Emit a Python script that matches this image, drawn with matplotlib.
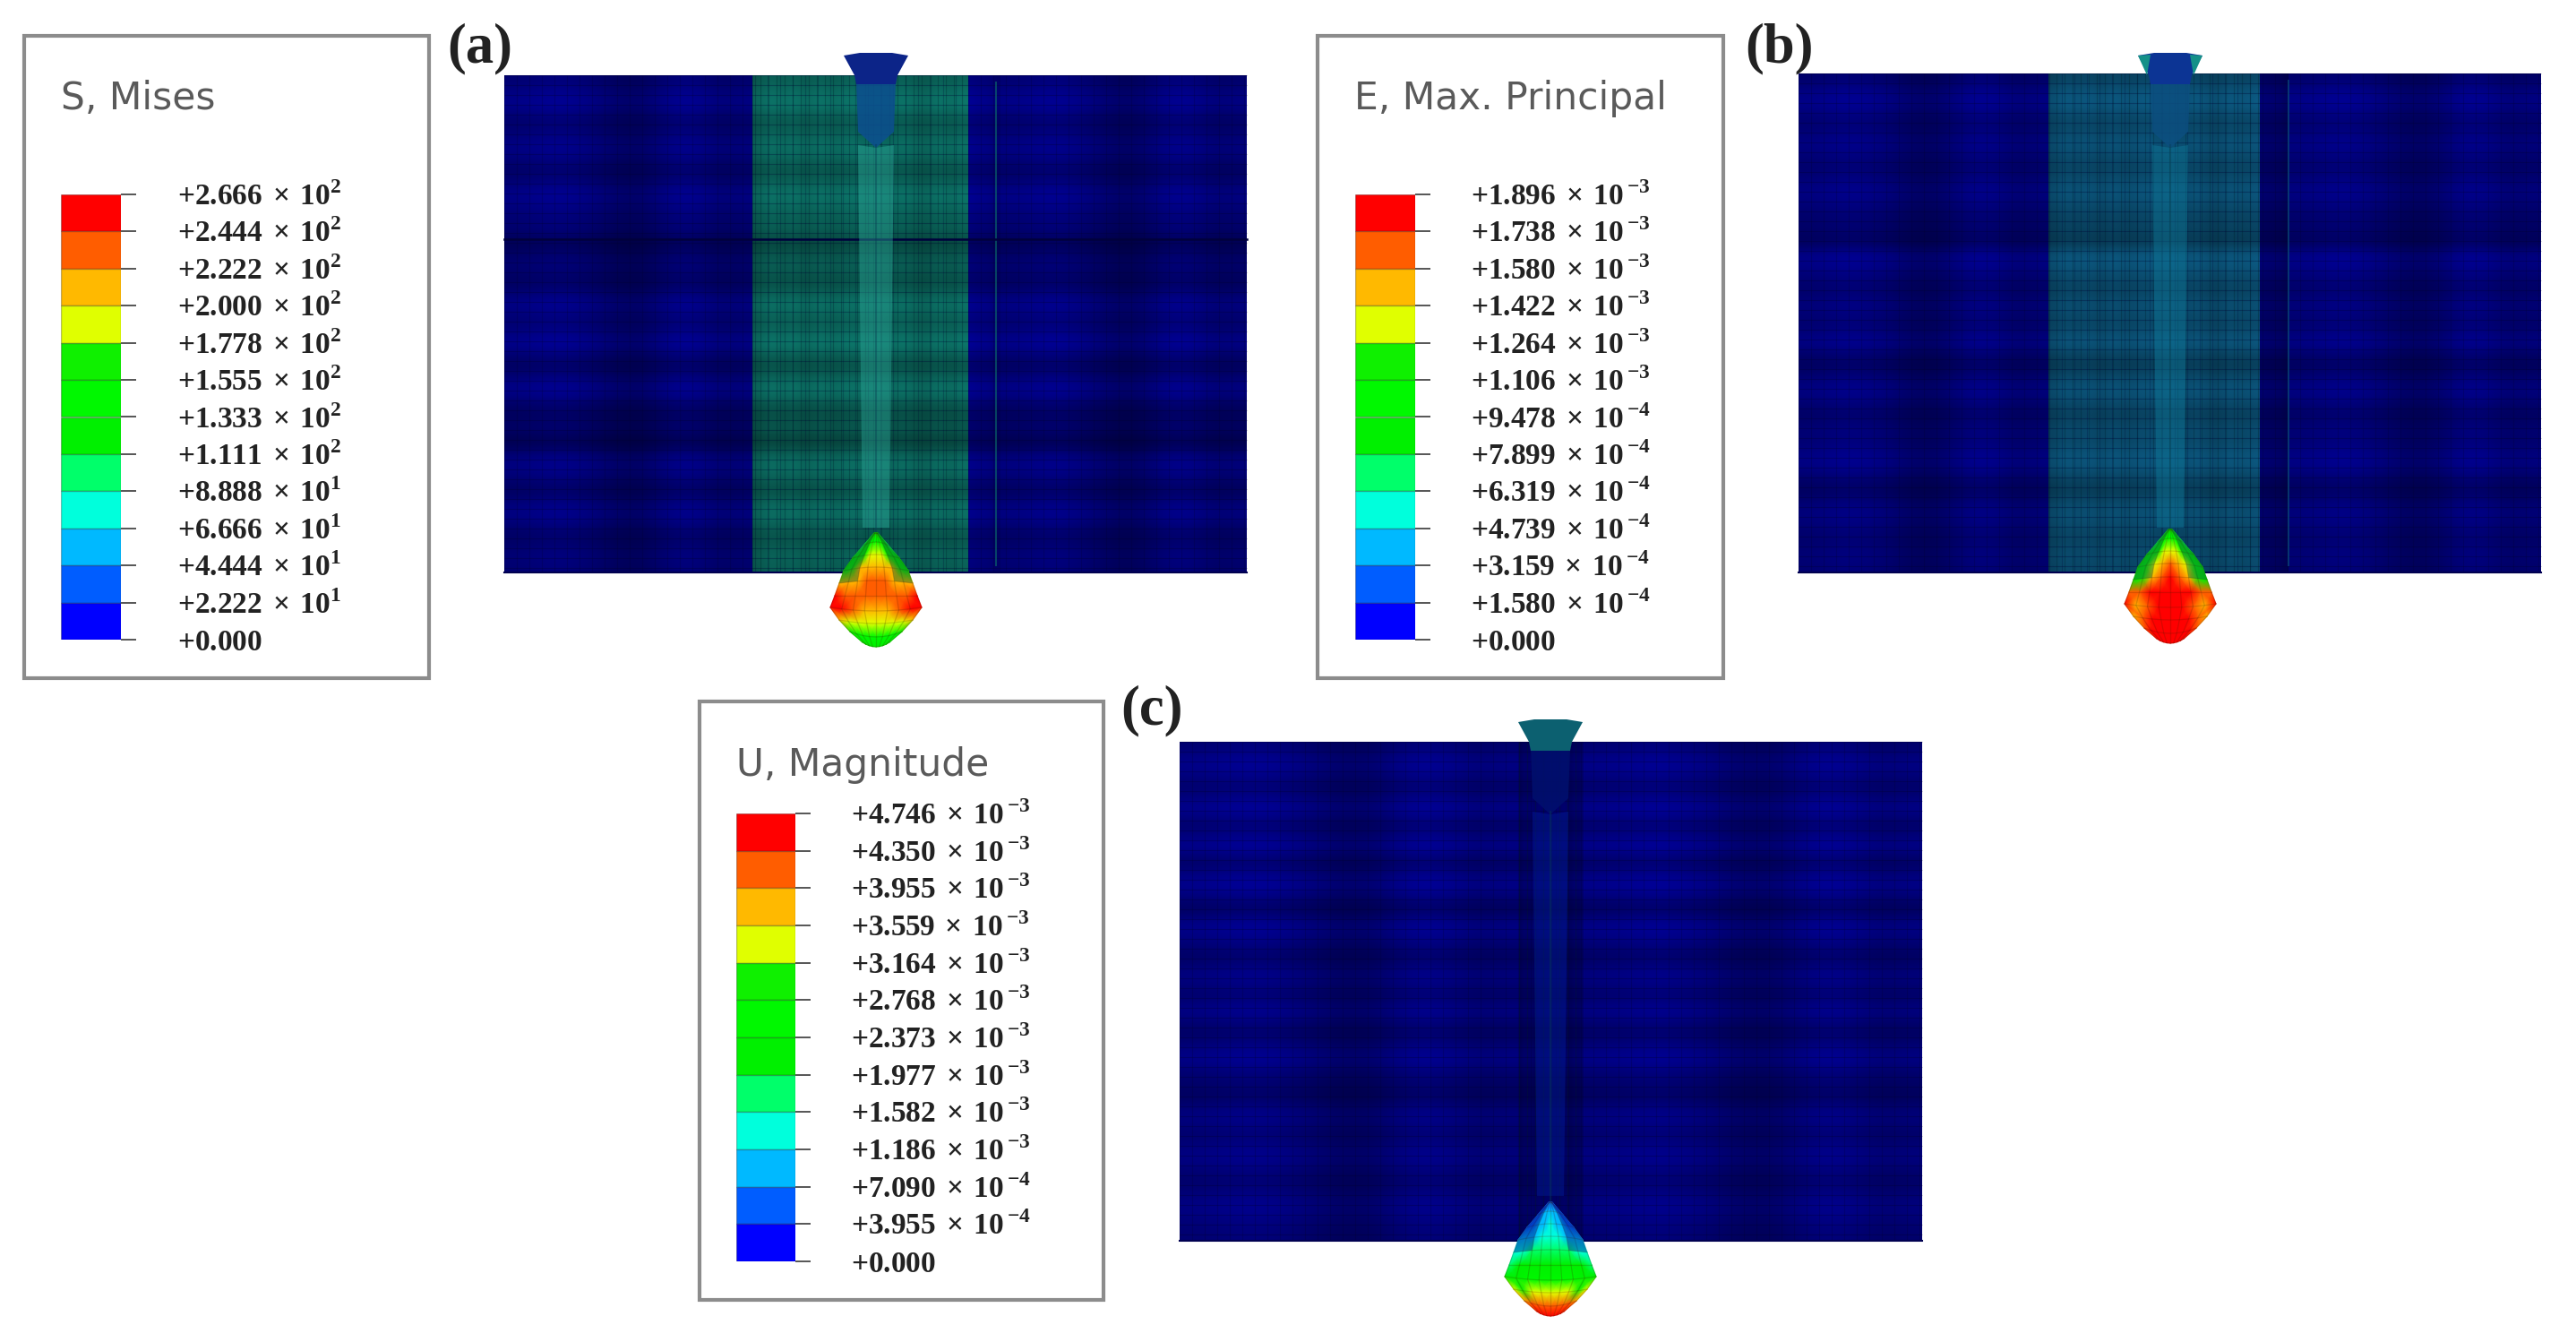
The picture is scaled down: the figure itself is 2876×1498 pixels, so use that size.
import numpy as np
import matplotlib
matplotlib.use("Agg")
import matplotlib.pyplot as plt
from matplotlib.colors import ListedColormap, to_rgb
from matplotlib.patches import Polygon, Rectangle
from matplotlib.transforms import ScaledTranslation

plt.rcParams['mathtext.fontset'] = 'custom'
plt.rcParams['mathtext.rm'] = 'Liberation Serif:bold'
plt.rcParams['mathtext.bf'] = 'Liberation Serif:bold'

W, H = 2876, 1498

# legend data, top of the bar first
band_colors = ['#ff0000', '#ff5d00', '#ffb900', '#e0ff00', '#0ff000', '#00f800',
               '#00f000', '#00ff6a', '#00ffdc', '#00b9ff', '#005dff', '#0000ff']

s_mises = ['2.666', '2.444', '2.222', '2.000', '1.778', '1.555', '1.333', '1.111',
           '8.888', '6.666', '4.444', '2.222', '0.000']
s_exp = [2, 2, 2, 2, 2, 2, 2, 2, 1, 1, 1, 1, None]

e_max = ['1.896', '1.738', '1.580', '1.422', '1.264', '1.106', '9.478', '7.899',
         '6.319', '4.739', '3.159', '1.580', '0.000']
e_exp = [-3, -3, -3, -3, -3, -3, -4, -4, -4, -4, -4, -4, None]

u_mag = ['4.746', '4.350', '3.955', '3.559', '3.164', '2.768', '2.373', '1.977',
         '1.582', '1.186', '7.090', '3.955', '0.000']
u_exp = [-3, -3, -3, -3, -3, -3, -3, -3, -3, -3, -4, -4, None]

rows_a = [.85, 1, 1.05, .8, .85, 1, .95, .75, .85, 1.05, .95, .85, .85, .6, .8, .85, .7, .85, 1.05, .85,
          .9, 1.1, .85, .7, .95, 1.05, .75, .7, .8, .55, .9, 1, .85, .7, .95, 1, .8, .75, .9, .85]
rows_b = [.8, 1, 1.05, .85, .85, 1, .9, .8, .9, 1, .9, .8, .8, .65, 1.05, 1, .85, .8, .95, .85,
          .85, 1.05, .8, .7, .9, 1, .85, .75, .9, .85, 1, 1, .8, .7, .9, .95, .85, .8, .9, .85]
rows_c = [.85, 1.05, 1, .8, .95, 1.1, .8, .95, 1.1, .75, .95, 1.1, .9, .7, 1.05, 1, .85, .75, 1, .9,
          .8, 1.05, .85, .75, .95, 1.05, .85, .8, .7, .95, .95, .8, .95, 1, .85, .8, .95, 1, .9, .85]

# brightness of the mesh columns inside each zone
cols_outer = [.95, 1, 1.05, 1, .9, .78, .75, .9, 1.05, 1, .85, .92]
cols_band = [.85, 1, .9, 1, .85, 1, .9, .95, 1, .9, 1, .88, 1, .9, .85, 1, .9, 1]
cols_strip = [1.05, 1, 1, .95, .85]

# contour levels of the deformed tip nodes, 0 is blue, 12 is red, apex row first
tip_a = [[5, 5, 5, 5, 5, 5, 5, 5, 5],
         [4, 5, 5, 6, 6, 6, 5, 5, 4],
         [5, 5, 7, 8, 8, 8, 7, 5, 5],
         [6, 7, 9, 9, 9, 9, 9, 7, 6],
         [9, 9, 9, 10, 10, 10, 9, 9, 9],
         [11, 10, 10, 10, 10, 10, 10, 10, 11],
         [12, 11, 10, 9, 9, 9, 10, 11, 12],
         [9, 8, 8, 8, 8, 8, 8, 8, 9],
         [7, 6, 6, 6, 6, 6, 6, 6, 7],
         [5, 5, 5, 5, 5, 5, 5, 5, 5]]
tip_b = [[5, 5, 5, 5, 5, 5, 5, 5, 5],
         [4, 5, 6, 6, 6, 6, 6, 5, 4],
         [5, 5, 7, 8, 8, 8, 7, 5, 5],
         [5, 6, 8, 9, 10, 9, 8, 6, 5],
         [5, 7, 9, 10, 11, 10, 9, 7, 5],
         [10, 10, 11, 12, 12, 12, 11, 10, 10],
         [11, 9, 10, 12, 12, 12, 10, 9, 11],
         [9, 10, 11, 12, 12, 12, 11, 10, 9],
         [10, 11, 12, 12, 12, 12, 12, 11, 10],
         [11, 12, 12, 12, 12, 12, 12, 12, 11]]
tip_c = [[1, 1, 1, 1, 1, 1, 1, 1, 1],
         [1, 1, 2, 2, 2, 2, 2, 1, 1],
         [1, 1, 2, 2, 3, 2, 2, 1, 1],
         [2, 2, 2, 3, 3, 3, 2, 2, 2],
         [3, 3, 4, 4, 4, 4, 4, 3, 3],
         [4, 5, 5, 5, 5, 5, 5, 5, 4],
         [5, 5, 6, 6, 6, 6, 6, 5, 5],
         [8, 7, 8, 8, 8, 8, 8, 7, 8],
         [9, 10, 10, 10, 10, 10, 10, 10, 9],
         [11, 11, 12, 12, 12, 12, 12, 11, 11]]

# shape of the tip, pixels from the apex
tip_half = [2, 14, 26, 36, 41, 46, 51, 41, 29, 15]
tip_edge = [0, 14, 28, 42, 56, 70, 83, 97, 110, 122]
tip_sag = [0, -4, -4, -4, -3, 0, 4, 4, 6, 5]
tip_u = [-1, -.75, -.5, -.25, 0, .25, .5, .75, 1]

fig = plt.figure(figsize=(W / 100, H / 100), dpi=100, facecolor='white')
bg = fig.add_axes([0, 0, 1, 1])
bg.set_xlim(0, W)
bg.set_ylim(H, 0)
bg.set_autoscale_on(False)
bg.axis('off')


def exp_label(num, exp):
    if exp is None:
        return r'$+\mathrm{%s}$' % num
    if exp < 0:
        return r'$+\mathrm{%s}\/\times\/\mathrm{10}^{\,\mathrm{%d}}$' % (num, exp)
    return r'$+\mathrm{%s}\/\times\/\mathrm{10}^{\mathrm{%d}}$' % (num, exp)


def draw_legend(box, title_y, bar, title, values, exps):
    x0, y0, x1, y1 = box
    bg.add_patch(Rectangle((x0, y0), x1 - x0, y1 - y0, fc='white', ec='#8c8c8c', lw=3))
    bg.text(x0 + 41, title_y, title, fontsize=30.5, color='#5a5a5a', va='center', ha='left',
            family='DejaVu Sans')
    bx0, by0, bx1, by1 = bar
    ax = fig.add_axes([bx0 / W, 1 - by1 / H, (bx1 - bx0) / W, (by1 - by0) / H])
    ax.barh(np.arange(12) + 0.5, 1, height=1, color=band_colors, edgecolor='#00000040', lw=1)
    ax.set_xlim(0, 1)
    ax.set_ylim(12, 0)
    ax.set_xticks([])
    ax.yaxis.tick_right()
    ax.set_yticks(np.arange(13))
    ax.set_yticklabels([exp_label(v, e) for v, e in zip(values, exps)], fontsize=24, color='#222222')
    ax.tick_params(axis='y', length=12, width=1.4, color='#555555', pad=33)
    # same baseline offset for every label, the exponents should not move them
    shift = ScaledTranslation(0, -12 / 100, fig.dpi_scale_trans)
    for tick in ax.yaxis.get_major_ticks():
        tick.label2.set_va('baseline')
        tick.label2.set_transform(tick.label2.get_transform() + shift)
    for s in ax.spines.values():
        s.set_visible(False)


def draw_zone(x0, x1, y0, y1, rows, cols, color):
    shade = np.outer(rows, cols)[..., None] * np.array(to_rgb(color))
    bg.imshow(np.clip(shade, 0, 1), extent=(x0, x1, y1, y0), aspect='auto',
              interpolation='bicubic', zorder=1)


def draw_mesh(box, edges, rows, outer, band, strip, line_x=None, lines=()):
    x0, y0, x1, y1 = box
    draw_zone(x0, edges[0], y0, y1, rows, cols_outer, outer)
    draw_zone(edges[0], edges[1], y0, y1, rows, cols_band, band)
    draw_zone(edges[1], edges[2], y0, y1, rows, cols_strip, strip)
    draw_zone(edges[2], x1, y0, y1, rows, cols_outer, outer)
    # fine element lines, tighter in the band
    bg.vlines(np.arange(x0, x1, 14), y0, y1, color='#000030', lw=.8, alpha=.22, zorder=2)
    bg.vlines(np.arange(edges[0], edges[1], 9), y0, y1, color='#002028', lw=.8, alpha=.3, zorder=2)
    bg.hlines(np.arange(y0, y1, 11), x0, x1, color='#000030', lw=.8, alpha=.3, zorder=2)
    if line_x is not None:
        bg.plot([line_x, line_x], [y0 + 8, y1 - 8], color=band, lw=1.4, alpha=.6, zorder=2)
    for ly in lines:
        bg.plot([x0, x1], [ly, ly], color='#00003c', lw=1.8, zorder=2)
    bg.plot([x0, x1], [y1, y1], color='#000050', lw=1.5, zorder=2)


def draw_stem(cx, top, ybot, cap_color, neck_color, column_color, corner_color=None):
    # neck narrows to a point below the top surface
    bg.add_patch(Polygon([(cx - 22, top + 30), (cx + 22, top + 30), (cx + 20, top + 85), (cx, top + 103),
                          (cx - 20, top + 85)], fc=neck_color, ec='none', alpha=.85, zorder=3))
    bg.add_patch(Polygon([(cx - 20, top + 100), (cx, top + 103), (cx + 20, top + 100), (cx + 15, ybot - 50),
                          (cx - 15, ybot - 50)], fc=column_color, ec='none', alpha=.4, zorder=3))
    bg.plot([cx, cx], [top + 100, ybot - 40], color='#063c50', lw=1.5, alpha=.4, zorder=3)
    bg.add_patch(Polygon([(cx - 36, top), (cx - 18, top - 3), (cx + 18, top - 3), (cx + 36, top), (cx + 24, top + 22),
                          (cx + 22, top + 32), (cx - 22, top + 32), (cx - 24, top + 22)],
                         fc=cap_color, ec='none', zorder=4))
    if corner_color:
        for sign in (-1, 1):
            bg.add_patch(Polygon([(cx + sign * 36, top), (cx + sign * 22, top - 1), (cx + sign * 26, top + 22)],
                                 fc=corner_color, ec='none', zorder=4))


def draw_tip(cx, apex, levels, shade_color):
    lev = np.array(levels, dtype=float)
    u = np.array(tip_u)
    half = np.array(tip_half)[:, None]
    X = cx + half * u
    Y = apex + np.array(tip_edge)[:, None] + np.array(tip_sag)[:, None] * (1 - u ** 2)
    # level 12 is the top edge of the red band, so shift into the band list
    cmap = ListedColormap(band_colors[::-1] + ['#ff0000'])
    bg.pcolormesh(X, Y, lev, shading='gouraud', cmap=cmap, vmin=-.5, vmax=12.5, zorder=5)
    for i in range(X.shape[0]):
        bg.plot(X[i], Y[i], color='#402000', lw=.9, alpha=.2, zorder=6)
    for j in range(X.shape[1]):
        bg.plot(X[:, j], Y[:, j], color='#402000', lw=.9, alpha=.2, zorder=6)
    # the sides of the upper tip sink into the plate colour
    for a, b in [(0, 2), (6, 8)]:
        side = [(X[r, a], Y[r, a]) for r in range(5)] + [(X[r, b], Y[r, b]) for r in range(4, -1, -1)]
        bg.add_patch(Polygon(side, fc=shade_color, ec='none', alpha=.4, zorder=7))


# (a) von Mises stress
draw_legend((27, 40, 479, 757), 110, (68, 217, 135, 714), 'S, Mises', s_mises, s_exp)
draw_mesh((563, 84, 1392, 639), (840, 1081, 1117), rows_a, '#00008a', '#0c7468', '#00008a', 1112, [267])
draw_stem(978, 62, 639, '#0c2488', '#0c4f90', '#30b0a0')
draw_tip(978, 595, tip_a, '#0a4a30')

# (b) max principal strain
draw_legend((1471, 40, 1924, 757), 110, (1513, 217, 1580, 714), 'E, Max. Principal', e_max, e_exp)
draw_mesh((2008, 82, 2837, 639), (2287, 2523, 2555), rows_b, '#00008a', '#0c5880', '#00006e', 2555, [])
draw_stem(2423, 62, 639, '#0c3494', '#0c4f80', '#1080a0', '#149088')
draw_tip(2423, 591, tip_b, '#0a5040')

# (c) displacement magnitude
draw_legend((781, 783, 1232, 1451), 854, (822, 908, 888, 1408), 'U, Magnitude', u_mag, u_exp)
draw_mesh((1317, 828, 2146, 1385), (1696, 1768, 1770), rows_c, '#00008a', '#00006e', '#00008a')
draw_stem(1731, 806, 1385, '#0c6070', '#00106e', '#0020a0')
draw_tip(1731, 1342, tip_c, '#00106e')

for x, y, name in [(499, 54, '(a)'), (1948, 54, '(b)'), (1251, 793, '(c)')]:
    bg.text(x, y, name, fontsize=45, fontweight='bold', family='Liberation Serif',
            color='#222222', va='center', ha='left')

fig.savefig('out.png', dpi=100, facecolor='white')
